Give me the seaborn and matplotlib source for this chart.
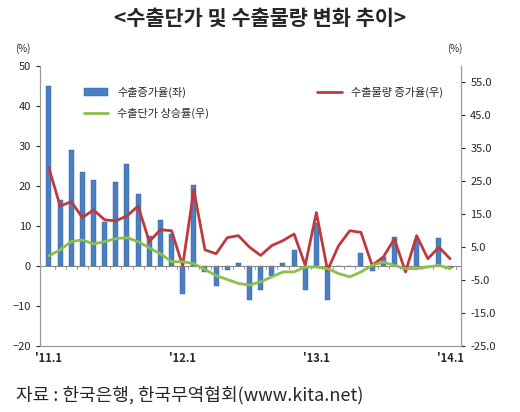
import matplotlib
matplotlib.use("Agg")
import matplotlib.pyplot as plt
import seaborn as sns
import numpy as np
import pandas as pd

sns.set_style("white")
plt.rcParams['font.family'] = ['Noto Sans CJK KR', 'DejaVu Sans']

months = list(range(37))
tick_labels = {0: "'11.1", 12: "'12.1", 24: "'13.1", 36: "'14.1"}
export_growth = [45, 16.5, 29, 23.5, 21.5, 11, 21, 25.5, 18, 7.5, 11.5, 8,
                 -7, 20.3, -1.5, -5, -1, 0.8, -8.5, -6, -2.5, 0.8, 4, -6,
                 10.7, -8.5, 0, 0, 3.2, -1.2, 2.3, 7.3, -1, 6.5, 0, 6.9, -0.5]
volume_growth = [29, 17.5, 18.8, 14, 16.3, 13.3, 13, 14.5, 17.5, 6.7, 10.3, 10,
                 -0.6, 22.4, 4.2, 3, 7.9, 8.5, 5, 2.5, 5.5, 7, 9, -0.5,
                 15.5, -2, 5.5, 10, 9.5, -0.5, 2, 7.5, -2.5, 8.5, 1.5, 5, 1.5]
price_growth = [2.4, 4.2, 6.7, 7.2, 6, 6.7, 7.6, 7.9, 6.7, 4.8, 3, 0.6,
                0.6, 0, -1.8, -3.6, -4.8, -6, -6.5, -5.5, -4, -2.5, -2.5, -1,
                -1, -1.5, -3, -4, -2.5, -0.5, 0.5, -0.5, -1.5, -1.5, -1, -0.5, -1.5]

df = pd.DataFrame({"m": months, "bar": export_growth,
                   "vol": volume_growth, "price": price_growth})

fig = plt.figure(figsize=(5.2, 4.12), dpi=100)
ax = fig.add_axes([0.077, 0.16, 0.81, 0.68])
ax.bar(df["m"], df["bar"], width=0.45, color="#4a7fc1", edgecolor="#2f5f9e", linewidth=0.3,
       label="수출증가율(좌)")
ax.set_xlim(-0.8, 37)
ax.set_ylim(-20, 50)
ax.set_yticks(range(-20, 51, 10))
ax.axhline(0, color="#888888", lw=0.8)
for m in months:
    ax.plot([m + 0.5, m + 0.5], [0, -0.8], color="#888888", lw=0.6)
ax.set_xticks(list(tick_labels.keys()))
ax.set_xticklabels(list(tick_labels.values()), fontsize=8, fontweight="bold")
ax.tick_params(axis="x", length=0, pad=4)
ax.tick_params(axis="y", labelsize=8, length=3, left=True)
ax.spines["top"].set_visible(False)
for s in ["left", "bottom", "right"]:
    ax.spines[s].set_color("#999999")

ax2 = ax.twinx()
sns.lineplot(data=df, x="m", y="vol", ax=ax2, color="#c0393b", lw=2, label="수출물량 증가율(우)", legend=False)
sns.lineplot(data=df, x="m", y="price", ax=ax2, color="#8dbf4a", lw=2, label="수출단가 상승률(우)", legend=False)
ax2.set_ylim(-25, 60)
ax2.set_yticks(np.arange(-25, 56, 10))
ax2.set_yticklabels([f"{v:.1f}" for v in np.arange(-25, 56, 10)], fontsize=8)
ax2.tick_params(axis="y", labelsize=8, length=3, right=True)
ax2.set_xlabel("")
ax2.set_ylabel("")
ax2.spines["top"].set_visible(False)
for s in ["left", "bottom", "right"]:
    ax2.spines[s].set_color("#999999")

h1, l1 = ax.get_legend_handles_labels()
h2, l2 = ax2.get_legend_handles_labels()
ax.legend([h1[0], h2[1]], [l1[0], l2[1]], loc="upper left", bbox_to_anchor=(0.08, 0.96),
          frameon=False, fontsize=8, handlelength=2.2, labelspacing=0.9)
ax2.legend([h2[0]], [l2[0]], loc="upper right", bbox_to_anchor=(0.98, 0.96),
           frameon=False, fontsize=8, handlelength=2.2)

fig.text(0.5, 0.955, "<수출단가 및 수출물량 변화 추이>", ha="center", va="center",
         fontsize=15, fontweight="bold")
fig.text(0.03, 0.875, "(%)", fontsize=7)
fig.text(0.86, 0.875, "(%)", fontsize=7)
fig.text(0.03, 0.04, "자료 : 한국은행, 한국무역협회(www.kita.net)", fontsize=13, va="center")
fig.savefig("out.png", dpi=100)
